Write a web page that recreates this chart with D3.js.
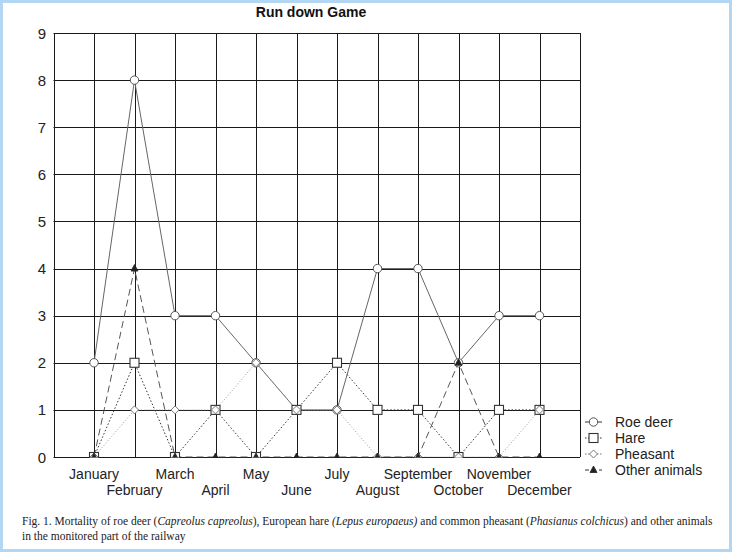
<!DOCTYPE html>
<html><head><meta charset="utf-8">
<script src="https://cdn.jsdelivr.net/npm/d3@7"></script>
<style>
html,body{margin:0;padding:0;background:#fff;}
svg{display:block;}
</style></head>
<body>
<script>
const months = ["January","February","March","April","May","June","July","August","September","October","November","December"];
const roeDeer = [2,8,3,3,2,1,1,4,4,2,3,3];
const hare = [0,2,0,1,0,1,2,1,1,0,1,1];
const pheasant = [0,1,1,1,2,1,1,0,0,0,0,1];
const otherAnimals = [0,4,0,0,0,0,0,0,0,2,0,0];
const yTicks = [0,1,2,3,4,5,6,7,8,9];
const seriesNames = ["Roe deer","Hare","Pheasant","Other animals"];
const title = "Run down Game";

const W = 732, H = 552;
const svg = d3.select("body").append("svg").attr("width", W).attr("height", H);

// border
svg.append("rect").attr("x",1.5).attr("y",1.5).attr("width",W-3).attr("height",H-3)
  .attr("fill","#fff").attr("stroke","#b3d6f2").attr("stroke-width",3);

const x = d3.scaleLinear().domain([0, months.length + 1]).range([53.5, 580]);
const y = d3.scaleLinear().domain([0, 9]).range([457, 33]);

svg.append("defs").append("clipPath").attr("id","plotclip")
  .append("rect").attr("x", x(0)).attr("y", y(9) - 6).attr("width", x(13) - x(0)).attr("height", y(0) - y(9) + 6.5);

// title
svg.append("text").attr("x", 311).attr("y", 17).attr("text-anchor","middle")
  .attr("font-family","Liberation Sans, Arial, sans-serif").attr("font-weight","bold")
  .attr("font-size",14).attr("fill","#111").text(title);

const grid = svg.append("g").attr("stroke","#1a1a1a").attr("stroke-width",1);
grid.selectAll("line.h").data(yTicks).join("line")
  .attr("x1", x(0)).attr("x2", x(13))
  .attr("y1", d => Math.round(y(d))+0.5).attr("y2", d => Math.round(y(d))+0.5);
grid.selectAll("line.v").data(d3.range(0, 14)).join("line")
  .attr("x1", d => Math.round(x(d))+0.5).attr("x2", d => Math.round(x(d))+0.5)
  .attr("y1", y(9)).attr("y2", y(0));

// y labels
svg.append("g").selectAll("text").data(yTicks).join("text")
  .attr("x", 46).attr("y", d => y(d) + 5.5).attr("text-anchor","end")
  .attr("font-family","Liberation Sans, Arial, sans-serif").attr("font-size",15).attr("fill","#222")
  .text(d => d);

// x labels
svg.append("g").selectAll("text").data(months).join("text")
  .attr("x", (d,i) => x(i+1)).attr("y", (d,i) => i % 2 === 0 ? 479 : 495)
  .attr("text-anchor","middle")
  .attr("font-family","Liberation Sans, Arial, sans-serif").attr("font-size",14).attr("fill","#222")
  .text(d => d);

const styles = [
  {data: roeDeer, stroke:"#666", dash:null, marker:"circle"},
  {data: hare, stroke:"#333", dash:"1.5,2", marker:"square"},
  {data: pheasant, stroke:"#999", dash:"1,2", marker:"diamond"},
  {data: otherAnimals, stroke:"#555", dash:"7,4", marker:"triangle"}
];

const line = d3.line().x((d,i) => x(i+1)).y(d => y(d));
const plot = svg.append("g").attr("clip-path","url(#plotclip)");

styles.forEach(s => {
  plot.append("path").attr("d", line(s.data)).attr("fill","none")
    .attr("stroke", s.stroke).attr("stroke-width", 1)
    .attr("stroke-dasharray", s.dash);
});

function drawMarker(g, type, cx, cy) {
  if (type === "circle") {
    g.append("circle").attr("cx",cx).attr("cy",cy).attr("r",4.2)
      .attr("fill","#fff").attr("stroke","#555").attr("stroke-width",1);
  } else if (type === "square") {
    g.append("rect").attr("x",cx-4.5).attr("y",cy-4.5).attr("width",9).attr("height",9)
      .attr("fill","#fff").attr("stroke","#333").attr("stroke-width",1.1);
  } else if (type === "diamond") {
    g.append("path").attr("d",`M${cx},${cy-4}L${cx+4},${cy}L${cx},${cy+4}L${cx-4},${cy}Z`)
      .attr("fill","#fff").attr("stroke","#777").attr("stroke-width",1);
  } else {
    g.append("path").attr("d",`M${cx},${cy-4}L${cx+3.5},${cy+2.5}L${cx-3.5},${cy+2.5}Z`)
      .attr("fill","#222").attr("stroke","#222").attr("stroke-width",0.8);
  }
}

styles.forEach(s => {
  s.data.forEach((v,i) => drawMarker(plot, s.marker, x(i+1), y(v)));
});

// legend
const lg = svg.append("g");
seriesNames.forEach((name,i) => {
  const s = styles[i];
  const cy = 422 + i*16;
  lg.append("line").attr("x1",585).attr("x2",602).attr("y1",cy).attr("y2",cy)
    .attr("stroke", i===2 ? "#777" : "#333").attr("stroke-width",1)
    .attr("stroke-dasharray", s.dash ? (i===3 ? "4,3" : "1.5,1.5") : null);
  drawMarker(lg, s.marker, 593.5, cy);
  lg.append("text").attr("x",615).attr("y",cy+5)
    .attr("font-family","Liberation Sans, Arial, sans-serif").attr("font-size",14).attr("fill","#222")
    .text(name);
});

// caption
const cap = svg.append("g").attr("font-family","Liberation Serif, Times New Roman, serif")
  .attr("font-size",11.5).attr("fill","#222");
const t1 = cap.append("text").attr("x",22).attr("y",525);
[["Fig. 1. Mortality of roe deer (",false],["Capreolus capreolus",true],["), European hare ",false],
 ["(Lepus europaeus)",true],[" and common pheasant (",false],["Phasianus colchicus",true],[") and other animals",false]]
 .forEach(([t,it]) => t1.append("tspan").attr("font-style", it ? "italic" : null).text(t));
cap.append("text").attr("x",22).attr("y",540).text("in the monitored part of the railway");
</script>
</body></html>
